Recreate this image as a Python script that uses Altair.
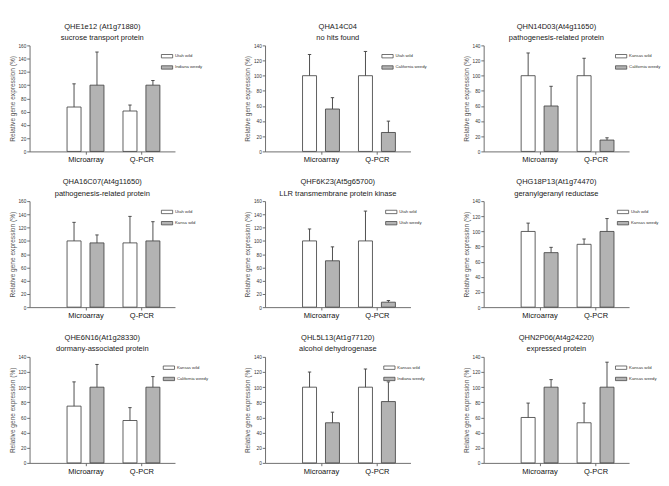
import altair as alt
import pandas as pd

# ---- data ----
title_ids = ["QHE1e12 (At1g71880)", "QHA14C04", "QHN14D03(At4g11650)",
             "QHA16C07(At4g11650)", "QHF6K23(At5g65700)", "QHG18P13(At1g74470)",
             "QHE6N16(At1g28330)", "QHL5L13(At1g77120)", "QHN2P06(At4g24220)"]
title_desc = ["sucrose transport protein", "no hits found", "pathogenesis-related protein",
              "pathogenesis-related protein", "LLR transmembrane protein kinase",
              "geranylgeranyl reductase", "dormany-associated protein",
              "alcohol dehydrogenase", "expressed protein"]
wild_labels = ["Utah wild", "Utah wild", "Kansas wild", "Utah wild", "Utah wild",
               "Utah wild", "Kansas wild", "Kansas wild", "Kansas wild"]
weedy_labels = ["Indiana weedy", "California weedy", "California weedy", "Kansa wild",
                "Utah weedy", "Kansas weedy", "California weedy", "Indiana weedy",
                "Kansas weedy"]
y_max = [160, 140, 140, 160, 160, 140, 140, 140, 140]
methods = ["Microarray", "Q-PCR"]
y_title = "Relative gene expression (%)"

microarray_wild = [67, 100, 100, 100, 100, 100, 75, 100, 60]
microarray_weedy = [100, 56, 60, 97, 70, 72, 100, 53, 100]
qpcr_wild = [61, 100, 100, 97, 100, 83, 56, 100, 53]
qpcr_weedy = [100, 25, 15, 100, 7.5, 100, 100, 81, 100]

microarray_wild_sd = [35, 28, 30, 28, 18, 11, 32, 20, 19]
microarray_weedy_sd = [50, 15, 26, 12, 21, 7, 30, 14, 10]
qpcr_wild_sd = [9, 32, 23, 40, 45, 7, 17, 24, 26]
qpcr_weedy_sd = [7, 15, 3, 29, 2.5, 17, 14, 26, 33]

legend_x = [140, 124, 140, 140, 128, 142, 142, 126, 140]

FONT = "Liberation Sans"
GREY = "#b3b3b3"
LINE = "#444444"
BAR_PATH = "M-1,-0.3H1V0.3H-1Z"
W, H = 155, 113


def panel(i):
    df = pd.DataFrame({
        "method": [1, 1, 2, 2],
        "series": [0, 1, 0, 1],
        "group": [wild_labels[i], weedy_labels[i], wild_labels[i], weedy_labels[i]],
        "value": [microarray_wild[i], microarray_weedy[i], qpcr_wild[i], qpcr_weedy[i]],
        "sd": [microarray_wild_sd[i], microarray_weedy_sd[i], qpcr_wild_sd[i], qpcr_weedy_sd[i]],
    })
    base = alt.Chart(df).transform_calculate(
        x0="datum.method - 0.33 + datum.series * 0.41",
        x1="datum.x0 + 0.25",
        xc="datum.x0 + 0.125",
        c0="datum.xc - 0.03",
        c1="datum.xc + 0.03",
        top="datum.value + datum.sd",
        zero="0",
    )
    xscale = alt.Scale(domain=[0, 2.6], nice=False, zero=False)
    yscale = alt.Scale(domain=[0, y_max[i]], nice=False)
    label_expr = "datum.value == 1 ? '%s' : '%s'" % (methods[0], methods[1])
    xaxis = alt.Axis(title=None, values=[1, 2], labelExpr=label_expr,
                     grid=False, tickSize=3, labelFontSize=8, labelLineHeight=9,
                     labelColor="#111111", labelPadding=2,
                     domainColor="#666666", tickColor="#666666",
                     labelFont=FONT)
    yaxis = alt.Axis(title=y_title,
                     values=list(range(0, y_max[i] + 1, 20)),
                     grid=False, tickSize=3, labelFontSize=5, labelLineHeight=6,
                     labelBaseline="middle",
                     labelColor="#333333", labelPadding=1, labelOverlap=False,
                     domainColor="#666666", tickColor="#666666",
                     titleFontSize=7, titleFontWeight="normal",
                     titleColor="#555555", titlePadding=3,
                     labelFont=FONT, titleFont=FONT)

    bars = base.mark_bar(stroke=LINE, strokeWidth=0.9).encode(
        x=alt.X("x0:Q", scale=xscale, axis=xaxis),
        x2="x1:Q",
        y=alt.Y("value:Q", scale=yscale, axis=yaxis),
        y2="zero:Q",
        color=alt.Color("group:N",
                        scale=alt.Scale(domain=[wild_labels[i], weedy_labels[i]],
                                        range=["white", GREY]),
                        legend=alt.Legend(title=None, orient="none",
                                          legendX=legend_x[i], legendY=5,
                                          symbolType=BAR_PATH, symbolSize=144,
                                          symbolStrokeColor=LINE,
                                          symbolStrokeWidth=0.8,
                                          labelFontSize=4.5, labelFont=FONT,
                                          labelColor="#333333", labelOffset=2,
                                          rowPadding=2, padding=0)),
    )
    err = base.mark_rule(color=LINE, strokeWidth=1).encode(
        x=alt.X("xc:Q", scale=xscale, axis=xaxis),
        y=alt.Y("value:Q", scale=yscale, axis=yaxis),
        y2="top:Q",
    )
    cap = base.mark_rule(color=LINE, strokeWidth=1).encode(
        x=alt.X("c0:Q", scale=xscale, axis=xaxis),
        x2="c1:Q",
        y=alt.Y("top:Q", scale=yscale, axis=yaxis),
    )
    return alt.layer(bars, err, cap).properties(
        width=W, height=H,
        title=alt.Title(title_ids[i], subtitle=title_desc[i], fontSize=8,
                        font=FONT, fontWeight="normal", color="#222222",
                        subtitleFontSize=8, subtitleFont=FONT,
                        subtitleColor="#222222", subtitlePadding=4,
                        offset=2, anchor="middle"),
    )


chart = alt.concat(*[panel(i) for i in range(9)], columns=3,
                   spacing={"row": 16, "column": 37}).resolve_scale(
    color="independent", x="independent", y="independent"
).configure_view(stroke=None).properties(padding=0)

chart.save("out.html", embed_options={"renderer": "svg", "actions": False})
